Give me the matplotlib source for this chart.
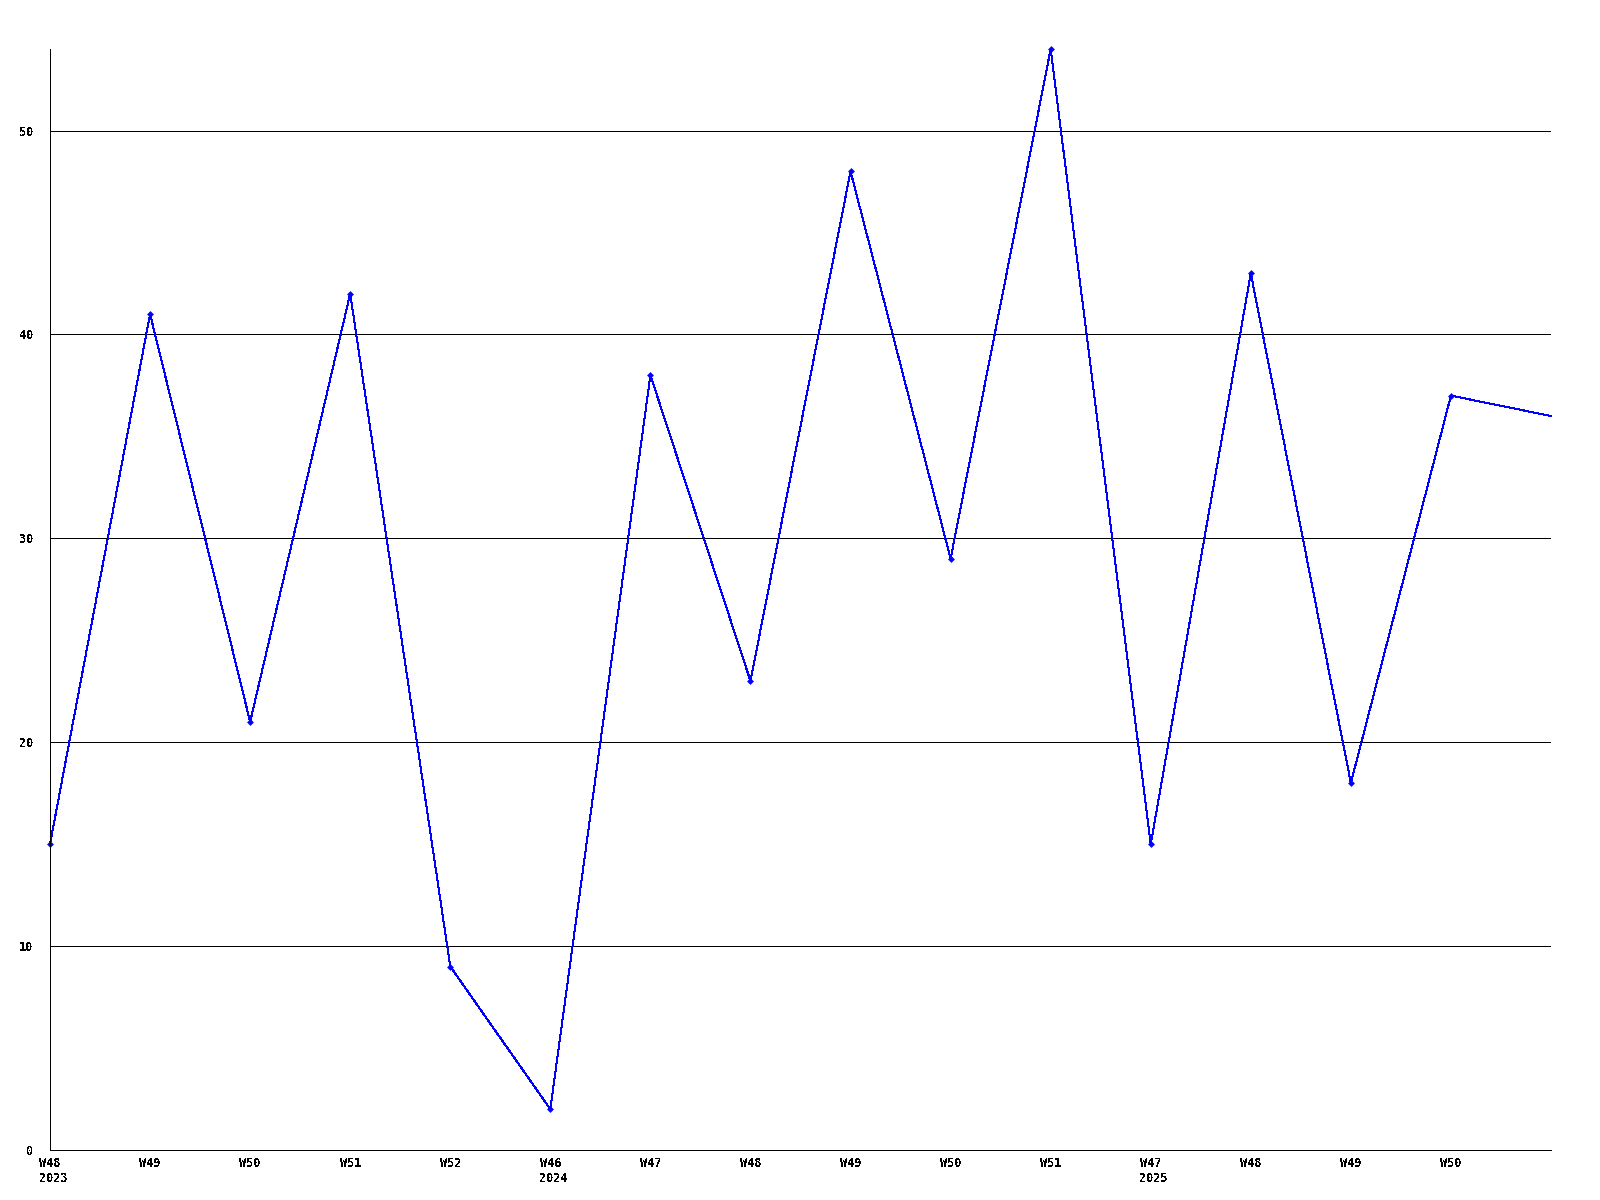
import matplotlib
matplotlib.use("Agg")
import matplotlib.pyplot as plt
import matplotlib.transforms as mtransforms

# weekly counts
weeks = ["W48", "W49", "W50", "W51", "W52", "W46", "W47", "W48",
         "W49", "W50", "W51", "W47", "W48", "W49", "W50"]
years = {0: "2023", 5: "2024", 11: "2025"}
values = [15, 41, 21, 42, 9, 2, 38, 23, 48, 29, 54, 15, 43, 18, 37, 36]
yticks = [0, 10, 20, 30, 40, 50]

plt.rcParams["font.family"] = "DejaVu Sans Mono"
plt.rcParams["font.weight"] = "bold"
plt.rcParams["text.antialiased"] = False

px = 0.72  # one pixel in points at dpi 100

fig = plt.figure(figsize=(16, 12), dpi=100)
ax = fig.add_axes([50 / 1600, 50 / 1200, 1501 / 1600, 1101 / 1200])

x = list(range(len(values)))
ax.plot(x, values, color="#0000ff", lw=px, antialiased=False,
        marker="D", ms=3.5, mew=0, markevery=list(range(len(weeks))),
        clip_on=False)

ax.set_xlim(0, len(values) - 1)
ax.set_ylim(0, max(values))

for y in yticks[1:]:
    ax.axhline(y, color="black", lw=px, antialiased=False, zorder=0)

ax.set_yticks(yticks)
ax.set_yticklabels([str(v) for v in yticks], fontsize=8.5, fontweight="bold")
ax.tick_params(axis="y", length=0, pad=12)

ax.set_xticks(range(len(weeks)))
ax.set_xticklabels(weeks, fontsize=8.5, fontweight="bold")
ax.tick_params(axis="x", length=0, pad=5)

shift = mtransforms.ScaledTranslation(-11 / 100, -22 / 100, fig.dpi_scale_trans)
trans = mtransforms.blended_transform_factory(ax.transData, ax.transAxes) + shift
for i, yr in years.items():
    ax.text(i, 0, yr, transform=trans, ha="left", va="top",
            fontsize=8.5, fontweight="bold")

ax.spines["top"].set_visible(False)
ax.spines["right"].set_visible(False)
for s in ("left", "bottom"):
    ax.spines[s].set_linewidth(px)
    ax.spines[s].set_antialiased(False)

fig.savefig("out.png", dpi=100)
